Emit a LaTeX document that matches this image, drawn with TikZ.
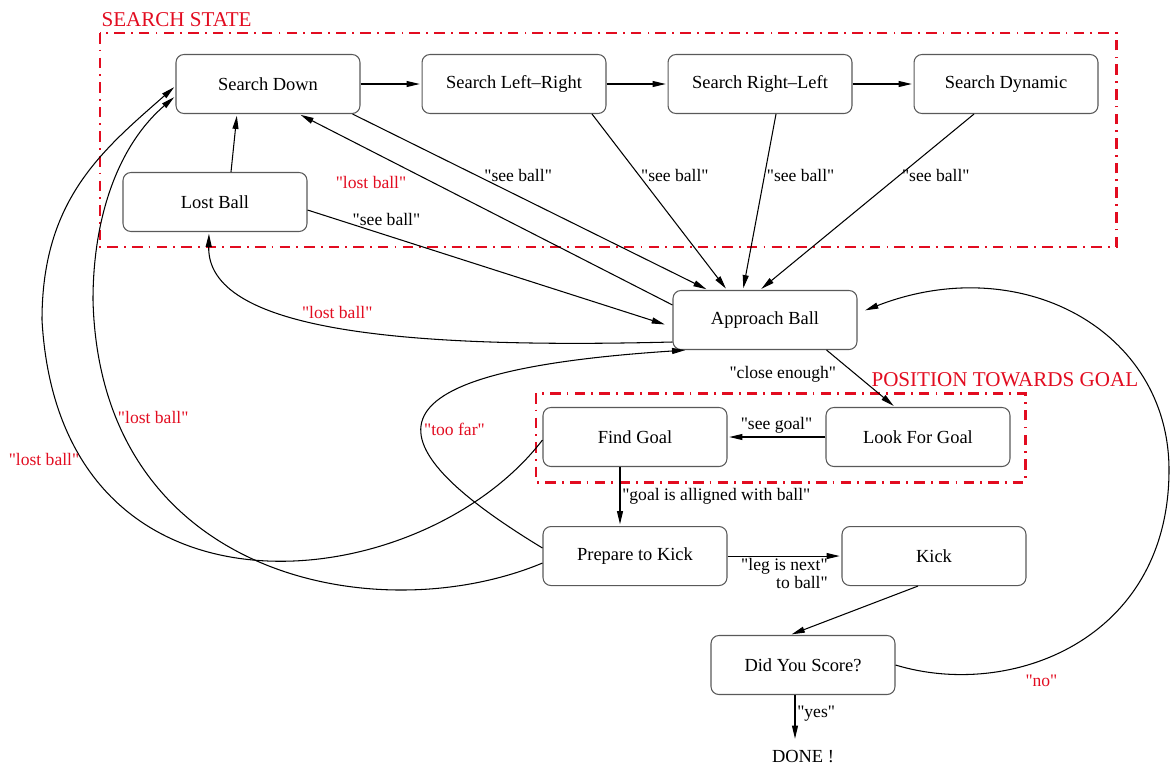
\documentclass[tikz,border=0pt]{standalone}
\usepackage{fontspec}
\setmainfont{Liberation Serif}[Ligatures=TeXOff]
\usetikzlibrary{arrows.meta,calc,positioning}
\definecolor{figred}{RGB}{226,12,32}

\begin{document}
\begin{tikzpicture}[x=0.02cm,y=-0.02cm,>={Triangle[length=7.5pt,width=3.4pt]},shorten >=1pt,
		node distance=1.22cm,align=center,line width=0.6pt,
		state/.style={draw=black!65,rounded corners=4.5pt,minimum width=3.68cm,minimum height=1.18cm,font=\fontsize{10.5}{12}\selectfont},
		lbl/.style={font=\fontsize{10}{11}\selectfont,inner sep=1pt},
		redlbl/.style={lbl,text=figred},
		group/.style={draw=figred,line width=1.7pt,dash pattern=on 6pt off 3.5pt on 1pt off 3.5pt},
		title/.style={text=figred,font=\fontsize{12}{13}\selectfont,inner sep=0pt,anchor=base west}]
		\useasboundingbox (0,0) rectangle (1170,768);
		\draw[group] (100,33) rectangle (1116,247);
		\node[title] (search_title) at (101,26) {SEARCH STATE};
		\draw[group] (536,393) rectangle (1025,482);
		\node[title] (goal_title) at (871,386) {POSITION TOWARDS GOAL};
		\node[state] (s_down) at (268,84) {Search Down};
		\node[state] [right=of s_down] (s_lr) {Search Left–Right};
		\node[state] [right=of s_lr] (s_rl) {Search Right–Left};
		\node[state] [right=of s_rl] (s_dyn) {Search Dynamic};
		\node[state] (lost) at (215,202) {Lost Ball};
		\node[state] (approach) at (765,320) {Approach Ball};
		\node[state] (find) at (635,437) {Find Goal};
		\node[state] [right=1.96cm of find] (look) {Look For Goal};
		\node[state] [below=1.18cm of find] (prepare) {Prepare to Kick};
		\node[state] [right=2.28cm of prepare] (kick) {Kick};
		\node[state] (score) at (803,665) {Did You Score?};
		\node[font=\fontsize{10.5}{12}\selectfont,inner sep=1pt] (done) at (803,757) {DONE !};
		\path[->]
			(s_down) edge (s_lr)
			(s_lr) edge (s_rl)
			(s_rl) edge (s_dyn)
			($(lost.north)+(16,0)$) edge ($(s_down.south)+(-31,0)$)
			($(s_down.south east)+(-8,0)$) edge node[lbl,pos=0.466,above=7pt] {"see ball"} ($(approach.north)+(-57,0)$)
			($(s_lr.south)+(78,0)$) edge node[lbl,pos=0.347,right] {"see ball"} ($(approach.north)+(-38,0)$)
			($(s_rl.south)+(16,0)$) edge node[lbl,pos=0.347,right] {"see ball"} ($(approach.north)+(-22,0)$)
			($(s_dyn.south)+(-32,0)$) edge node[lbl,pos=0.347,right] {"see ball"} ($(approach.north)+(-5,0)$)
			($(lost.east)+(0,8)$) edge node[lbl,pos=0.22,above=4pt] {"see ball"} ($(approach.west)+(-6,5)$)
			($(approach.west)+(0,-15)$) edge node[redlbl,pos=0.7,below left=2pt] {"lost ball"} ($(s_down.south)+(31,0)$)
			($(approach.south east)+(-31,0)$) edge node[lbl,pos=0.43,left=10pt] {"close enough"} ($(look.north)+(-23,0)$)
			(look) edge node[lbl,above=1pt] {"see goal"} (find)
			($(find.south)+(-15,0)$) edge node[lbl,right] {"goal is alligned with ball"} ($(prepare.north)+(-15,0)$)
			(prepare) edge node[lbl,below,align=right,font=\fontsize{10}{8.5}\selectfont] {"leg is next"\\ to ball"} (kick)
			($(kick.south)+(-16,0)$) edge ($(score.north)+(-13,0)$)
			($(score.south)+(-8,0)$) edge node[lbl,pos=0.4,right] {"yes"} ($(done.north)+(-8,-8)$);
		\draw[->] ($(approach.west)+(0,22)$) .. controls +(-274,7) and +(-2,98) .. node[redlbl,pos=0.5,above=3pt] {"lost ball"} ($(lost.south)+(-6,0)$);
		\draw[->] ($(find.west)+(0,3)$) .. controls +(-123,160) and +(18,320) .. (42,320) node[redlbl,pos=0.82,left] {"lost ball"}
			.. controls +(0,-120) and +(-74,65) .. ($(s_down.west)+(0,2)$);
		\draw[->] ($(prepare.west)+(0,7)$) .. controls +(-163,68) and +(7,280) .. (93,300) node[redlbl,pos=0.84,right] {"lost ball"}
			.. controls +(0,-80) and +(-59,51) .. ($(s_down.west)+(0,12)$);
		\draw[->] ($(prepare.west)+(0,-8)$) .. controls +(-193,-117) and +(-306,20) .. node[redlbl,pos=0.42,right] {"too far"} ($(approach.south)+(-78,0)$);
		\draw[->] (score.east) .. controls +(115,35) and +(0,170) .. (1169,470) node[redlbl,pos=0.4,below=7pt] {"no"}
			.. controls +(0,-140) and +(157,-61) .. ($(approach.east)+(6,-9)$);
	\end{tikzpicture}
\end{document}
